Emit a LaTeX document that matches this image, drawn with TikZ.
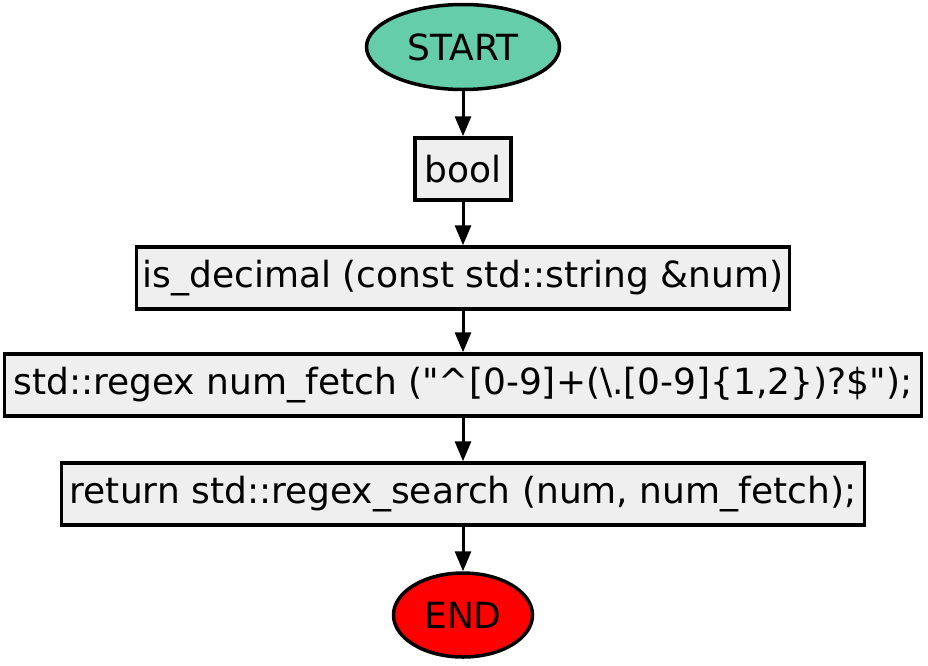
\documentclass[tikz,border=0pt]{standalone}
\usepackage{fontspec}
\setmainfont{DejaVu Sans}
\usetikzlibrary{shapes.geometric,arrows.meta}
\begin{document}
\begin{tikzpicture}[x=1pt,y=-1pt,
  every node/.style={font=\fontsize{36}{42}\selectfont, inner sep=0pt, line width=3.5pt, draw=black},
  term/.style={ellipse},
  procbox/.style={rectangle, fill=boxgray, minimum height=62pt},
  link/.style={line width=3pt, -{Triangle[length=20pt,width=16pt]}}]
\definecolor{boxgray}{HTML}{EFEFEF}
\definecolor{startgreen}{HTML}{66CDAA}
\definecolor{endred}{HTML}{FF0000}
\useasboundingbox (0,0) rectangle (928,665);
\node[term, fill=startgreen, minimum width=193pt, minimum height=85pt] (start) at (463,47) {START};
\node[procbox, minimum width=96pt] (bool) at (463,169) {bool};
\node[procbox, minimum width=653pt] (decl) at (463,278) {is\_decimal (const std::string \&num)};
\node[procbox, minimum width=917pt] (regex) at (463,385) {std::regex num\_fetch (\textquotedbl\textasciicircum[0-9]+(\textbackslash.[0-9]\{1,2\})?\$\textquotedbl);};
\node[procbox, minimum width=803pt] (ret) at (463,494) {return std::regex\_search (num, num\_fetch);};
\node[term, fill=endred, minimum width=139pt, minimum height=84pt] (end) at (463,615) {END};
\draw[link] (start) -- (bool);
\draw[link] (bool) -- (decl);
\draw[link] (decl) -- (regex);
\draw[link] (regex) -- (ret);
\draw[link] (ret) -- (end);
\end{tikzpicture}
\end{document}
